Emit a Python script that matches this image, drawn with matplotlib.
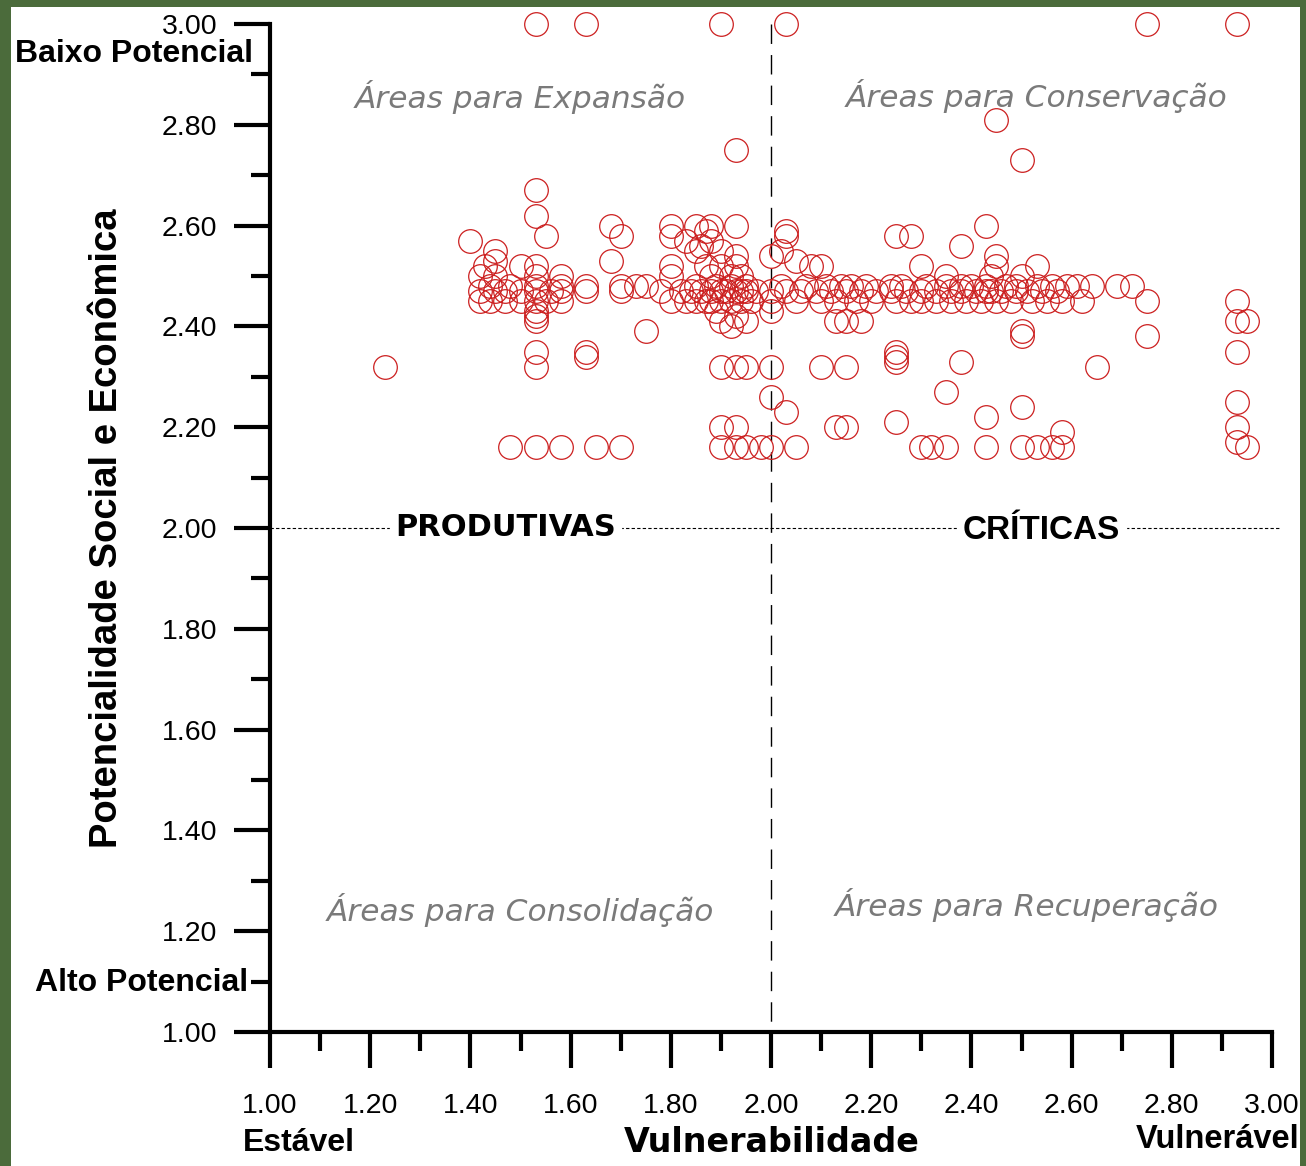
import matplotlib
matplotlib.use("Agg")
import matplotlib.pyplot as plt
from matplotlib.patches import Rectangle
from matplotlib.ticker import MultipleLocator, FormatStrFormatter

plt.rcParams['font.family'] = ['Liberation Sans', 'DejaVu Sans']

# topo (y = 3.00)
top_x = [1.53, 1.63, 1.90, 2.03, 2.75, 2.93]
top_y = [3.00, 3.00, 3.00, 3.00, 3.00, 3.00]

# pontos isolados acima da faixa
high_x = [2.45, 2.50, 1.93, 1.53, 1.53, 1.40, 1.55, 1.68, 1.70, 1.80, 1.80, 1.83, 1.85, 1.87, 1.88,
          1.93, 2.03, 2.03, 2.25, 2.28, 2.43, 1.45, 1.45, 1.93, 1.90, 1.85, 2.00, 2.02, 2.05, 2.38,
          2.45, 1.86, 1.88, 1.68]
high_y = [2.81, 2.73, 2.75, 2.67, 2.62, 2.57, 2.58, 2.60, 2.58, 2.60, 2.58, 2.57, 2.60, 2.59, 2.60,
          2.60, 2.59, 2.58, 2.58, 2.58, 2.60, 2.55, 2.53, 2.54, 2.55, 2.55, 2.54, 2.55, 2.53, 2.56,
          2.54, 2.56, 2.57, 2.53]

# faixa principal
b52_x = [1.43, 1.50, 1.53, 1.80, 1.87, 1.90, 1.93, 2.08, 2.10, 2.30, 2.45, 2.53]
b50_x = [1.42, 1.45, 1.53, 1.58, 1.80, 1.88, 1.92, 1.94, 2.35, 2.44, 2.50]
b48_x = [1.44, 1.48, 1.53, 1.58, 1.63, 1.70, 1.73, 1.75, 1.85, 1.89, 1.92, 1.95, 2.02, 2.07, 2.11,
         2.14, 2.16, 2.19, 2.24, 2.26, 2.31, 2.35, 2.38, 2.40, 2.43, 2.47, 2.49, 2.53, 2.56, 2.59,
         2.61, 2.64, 2.69, 2.72]
b47_x = [1.42, 1.45, 1.47, 1.50, 1.53, 1.56, 1.58, 1.63, 1.70, 1.78, 1.82, 1.84, 1.86, 1.88, 1.90,
         1.91, 1.93, 1.94, 1.95, 1.97, 2.00, 2.03, 2.06, 2.09, 2.12, 2.15, 2.18, 2.21, 2.24, 2.27,
         2.30, 2.33, 2.36, 2.38, 2.41, 2.43, 2.44, 2.46, 2.49, 2.51, 2.54, 2.57]
b45_x = [1.42, 1.44, 1.47, 1.50, 1.53, 1.55, 1.58, 1.80, 1.83, 1.85, 1.87, 1.88, 1.90, 1.92, 1.94,
         1.96, 2.00, 2.05, 2.10, 2.13, 2.17, 2.20, 2.25, 2.28, 2.30, 2.33, 2.36, 2.39, 2.42, 2.45,
         2.48, 2.52, 2.55, 2.58, 2.62, 2.75]

# abaixo da faixa
low_x = [1.53, 1.53, 1.53, 1.89, 1.90, 1.93, 1.95, 1.92, 2.13, 2.15, 2.18, 2.00, 1.75, 2.50, 2.50,
         2.75, 2.93, 2.95, 2.93]
low_y = [2.43, 2.42, 2.41, 2.43, 2.41, 2.42, 2.41, 2.40, 2.41, 2.41, 2.41, 2.43, 2.39, 2.39, 2.38,
         2.38, 2.41, 2.41, 2.45]

# linha ~2.32 - 2.35
r32_x = [1.23, 1.53, 1.53, 1.63, 1.63, 1.90, 1.93, 1.95, 2.00, 2.10, 2.15, 2.25, 2.25, 2.25, 2.38,
         2.65, 2.93]
r32_y = [2.32, 2.32, 2.35, 2.35, 2.34, 2.32, 2.32, 2.32, 2.32, 2.32, 2.32, 2.35, 2.34, 2.33, 2.33,
         2.32, 2.35]

# linha ~2.20 - 2.27
r20_x = [1.90, 1.93, 2.13, 2.15, 2.25, 2.58, 2.93, 2.93, 2.00, 2.03, 2.35, 2.50, 2.43]
r20_y = [2.20, 2.20, 2.20, 2.20, 2.21, 2.19, 2.20, 2.25, 2.26, 2.23, 2.27, 2.24, 2.22]

# linha 2.16
r16_x = [1.48, 1.53, 1.58, 1.65, 1.70, 1.90, 1.93, 1.95, 1.98, 2.00, 2.05, 2.30, 2.32, 2.35, 2.43,
         2.50, 2.53, 2.56, 2.58, 2.95, 2.93]
r16_y = [2.16] * 19 + [2.16, 2.17]

vul = (top_x + high_x + b52_x + b50_x + b48_x + b47_x + b45_x + low_x + r32_x + r20_x + r16_x)
pot = (top_y + high_y + [2.52] * len(b52_x) + [2.50] * len(b50_x) + [2.48] * len(b48_x)
       + [2.47] * len(b47_x) + [2.45] * len(b45_x) + low_y + r32_y + r20_y + r16_y)

W, H = 1306, 1166
fig = plt.figure(figsize=(W / 100, H / 100), dpi=100)
fig.patch.set_facecolor('#4b6b3b')
fig.add_artist(Rectangle((11 / W, 0), (1300 - 11) / W, (H - 7) / H,
                         transform=fig.transFigure, facecolor='white', edgecolor='none', zorder=0))

ax = fig.add_axes([270 / W, 1 - 1032 / H, 1002 / W, 1008 / H])
ax.set_facecolor('none')

ax.plot(vul, pot, 'o', markersize=17, markerfacecolor='none', markeredgecolor='#cc1f1f',
        markeredgewidth=0.9, clip_on=False, zorder=3)

ax.plot([1, 3.016], [2, 2], color='black', lw=0.8, ls=(0, (3, 2)), clip_on=False, zorder=2)
ax.plot([2, 2], [3, 1], color='black', lw=1.0, ls=(0, (14, 8)), clip_on=False, zorder=2)

ax.set_xlim(1, 3)
ax.set_ylim(1, 3)
for s in ['top', 'right']:
    ax.spines[s].set_visible(False)
for s in ['left', 'bottom']:
    ax.spines[s].set_linewidth(3)

ax.xaxis.set_major_locator(MultipleLocator(0.2))
ax.xaxis.set_minor_locator(MultipleLocator(0.1))
ax.yaxis.set_major_locator(MultipleLocator(0.2))
ax.yaxis.set_minor_locator(MultipleLocator(0.1))
ax.xaxis.set_major_formatter(FormatStrFormatter('%.2f'))
ax.yaxis.set_major_formatter(FormatStrFormatter('%.2f'))
ax.tick_params(which='major', direction='out', length=26, width=3, labelsize=20.5, pad=12)
ax.tick_params(which='minor', direction='out', length=14, width=3)
ax.tick_params(axis='x', which='major', pad=18)

ax.set_ylabel('Potencialidade Social e Econômica', fontsize=27.5, fontweight='bold', labelpad=26)

grey = '#7a7a7a'
qfont = dict(style='italic', color=grey, fontsize=22.5, ha='center', va='center',
             family=['DejaVu Sans'])
ax.text(1.50, 2.855, 'Áreas para Expansão', **qfont)
ax.text(2.53, 2.857, 'Áreas para Conservação', **qfont)
ax.text(1.50, 1.242, 'Áreas para Consolidação', **qfont)
ax.text(2.51, 1.252, 'Áreas para Recuperação', **qfont)

ax.text(1.47, 2.0, 'PRODUTIVAS', fontsize=22, fontweight='bold', ha='center', va='center',
        family=['DejaVu Sans'], backgroundcolor='white', zorder=4)
ax.text(2.54, 1.995, 'CRÍTICAS', fontsize=24, fontweight='bold', ha='center', va='center',
        backgroundcolor='white', zorder=4)

fig.text(772 / W, 1 - 1143 / H, 'Vulnerabilidade', fontsize=24, fontweight='bold',
         ha='center', va='center', family=['DejaVu Sans'])
fig.text(253 / W, 1 - 54 / H, 'Baixo Potencial', fontsize=23, fontweight='bold',
         ha='right', va='center')
fig.text(248 / W, 1 - 983 / H, 'Alto Potencial', fontsize=23, fontweight='bold',
         ha='right', va='center')
fig.text(243 / W, 1 - 1143 / H, 'Estável', fontsize=23, fontweight='bold',
         ha='left', va='center')
fig.text(1299 / W, 1 - 1140 / H, 'Vulnerável', fontsize=23.5, fontweight='bold',
         ha='right', va='center')

fig.savefig('out.png', dpi=100, facecolor=fig.get_facecolor())
